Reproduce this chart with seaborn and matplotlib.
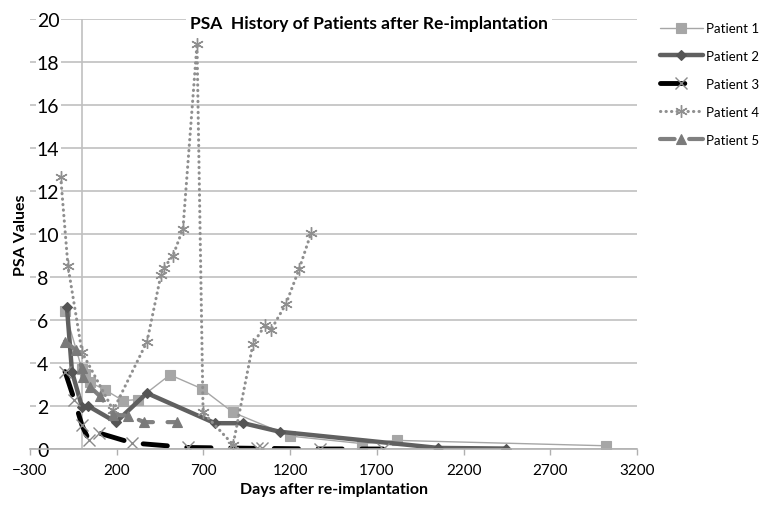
import matplotlib
matplotlib.use("Agg")
import pandas as pd
import matplotlib.pyplot as plt
import seaborn as sns
from matplotlib.lines import Line2D

# PSA values (days after re-implantation, PSA)
p1_days = [-98, 0, 17, 46, 133, 236, 323, 507, 692, 871, 1200, 1615, 1817, 3022]
p1_psa = [6.4, 3.7, 3.5, 3.1, 2.75, 2.25, 2.3, 3.45, 2.8, 1.7, 0.6, 0.25, 0.4, 0.15]

p2_days = [-87, -58, 0, 35, 196, 374, 767, 930, 1142, 2053, 2445]
p2_psa = [6.6, 3.6, 1.95, 2.0, 1.25, 2.6, 1.2, 1.2, 0.8, 0.05, 0.02]

p3_days = [-98, -45, 0, 40, 95, 290, 611, 1010, 1040, 1372, 1735]
p3_psa = [3.6, 2.3, 1.1, 0.4, 0.75, 0.28, 0.07, 0.03, 0.03, 0.0, 0.0]

p4_days = [-123, -81, 0, 180, 375, 455, 470, 525, 582, 663, 698, 871, 986, 1055, 1090, 1176, 1251, 1321]
p4_psa = [12.65, 8.5, 4.5, 1.8, 5.0, 8.1, 8.4, 9.0, 10.25, 18.85, 1.7, 0.2, 4.9, 5.75, 5.55, 6.75, 8.35, 10.05]

p5_days = [-98, -35, 0, 6, 46, 104, 179, 265, 360, 550]
p5_psa = [5.0, 4.6, 3.75, 3.35, 2.9, 2.45, 1.6, 1.55, 1.25, 1.25]

labels = ["Patient 1", "Patient 2", "Patient 3", "Patient 4", "Patient 5"]
x_ticks = [-300, 200, 700, 1200, 1700, 2200, 2700, 3200]
y_ticks = [0, 2, 4, 6, 8, 10, 12, 14, 16, 18, 20]

series = [(p1_days, p1_psa), (p2_days, p2_psa), (p3_days, p3_psa),
          (p4_days, p4_psa), (p5_days, p5_psa)]

styles = [
    dict(color="#a6a6a6", lw=1.0, ls="-", marker="s", ms=6.5, mec="#a6a6a6", mfc="#a6a6a6", mew=0.8),
    dict(color="#606060", lw=3.2, ls="-", marker="D", ms=5.5, mec="#555555", mfc="#555555", mew=0.8),
    dict(color="#000000", lw=3.5, ls=(0, (5, 4)), marker="x", ms=8, mec="#8a8a8a", mfc="none", mew=1.0),
    dict(color="#8f8f8f", lw=2.2, ls=(0, (0.1, 1.7)), marker=(6, 2, 0), ms=9, mec="#8f8f8f", mfc="none", mew=1.0),
    dict(color="#808080", lw=3.0, ls=(0, (3.5, 3.5)), marker="^", ms=7, mec="#7a7a7a", mfc="#7a7a7a", mew=0.8),
]

sns.set_theme(style="white")
plt.rcParams["font.family"] = ["Lato", "DejaVu Sans"]
plt.rcParams["text.color"] = "black"
plt.rcParams["axes.labelcolor"] = "black"
plt.rcParams["xtick.labelcolor"] = "black"
plt.rcParams["ytick.labelcolor"] = "black"

fig = plt.figure(figsize=(7.69, 5.06), dpi=100)
ax = fig.add_axes([30 / 769, 1 - 450 / 506, 607 / 769, 430 / 506])

for (days, psa), st in zip(series, styles):
    df = pd.DataFrame({"day": days, "psa": psa})
    sns.lineplot(data=df, x="day", y="psa", sort=False, estimator=None, ax=ax,
                 color=st["color"], linewidth=st["lw"], linestyle=st["ls"],
                 marker=st["marker"], markersize=st["ms"], markeredgecolor=st["mec"],
                 markerfacecolor=st["mfc"], markeredgewidth=st["mew"],
                 dash_capstyle="round", solid_capstyle="round", legend=False)

ax.set_xlim(-300, 3200)
ax.set_ylim(0, 20)
ax.set_xticks(x_ticks)
ax.set_yticks(y_ticks)
ax.yaxis.grid(True, color="#c0c0c0", lw=1.2)
ax.set_axisbelow(True)
ax.axvline(0, color="#c0c0c0", lw=1.2, zorder=1)

for side in ["top", "right", "left"]:
    ax.spines[side].set_visible(False)
ax.spines["bottom"].set_color("#b0b0b0")
ax.spines["bottom"].set_linewidth(1.2)

ax.tick_params(axis="x", length=4, width=1, color="#b0b0b0", direction="out",
               labelsize=11, pad=6, bottom=True, labelcolor="black")
ax.tick_params(axis="y", length=0, pad=-5, labelsize=14, labelcolor="black")
for lbl in ax.get_yticklabels():
    lbl.set_horizontalalignment("left")
    lbl.set_bbox(dict(facecolor="white", edgecolor="none", pad=1))

ax.set_title("PSA  History of Patients after Re-implantation", fontsize=12.5,
             fontweight="bold", color="black", x=0.558, y=0.991, va="center", pad=0,
             bbox=dict(facecolor="white", edgecolor="none", pad=3))
ax.set_xlabel("Days after re-implantation", fontsize=11.5, fontweight="bold", labelpad=4)
ax.set_ylabel("PSA Values", fontsize=11.5, fontweight="bold")
ax.yaxis.set_label_coords(-0.004, 0.5)

handles = []
for st in styles:
    handles.append(Line2D([], [], color=st["color"], lw=st["lw"], ls=st["ls"],
                          marker=st["marker"], ms=st["ms"], mec=st["mec"],
                          mfc=st["mfc"], mew=st["mew"], dash_capstyle="round",
                          solid_capstyle="round"))
leg = fig.legend(handles, labels, loc="upper left", bbox_to_anchor=(655 / 769, 1 - 18 / 506),
                 frameon=False, fontsize=9.5, handlelength=3.2, handletextpad=0.3,
                 labelspacing=1.2, borderaxespad=0)
for t in leg.get_texts():
    t.set_color("black")

fig.savefig("out.png", dpi=100)
